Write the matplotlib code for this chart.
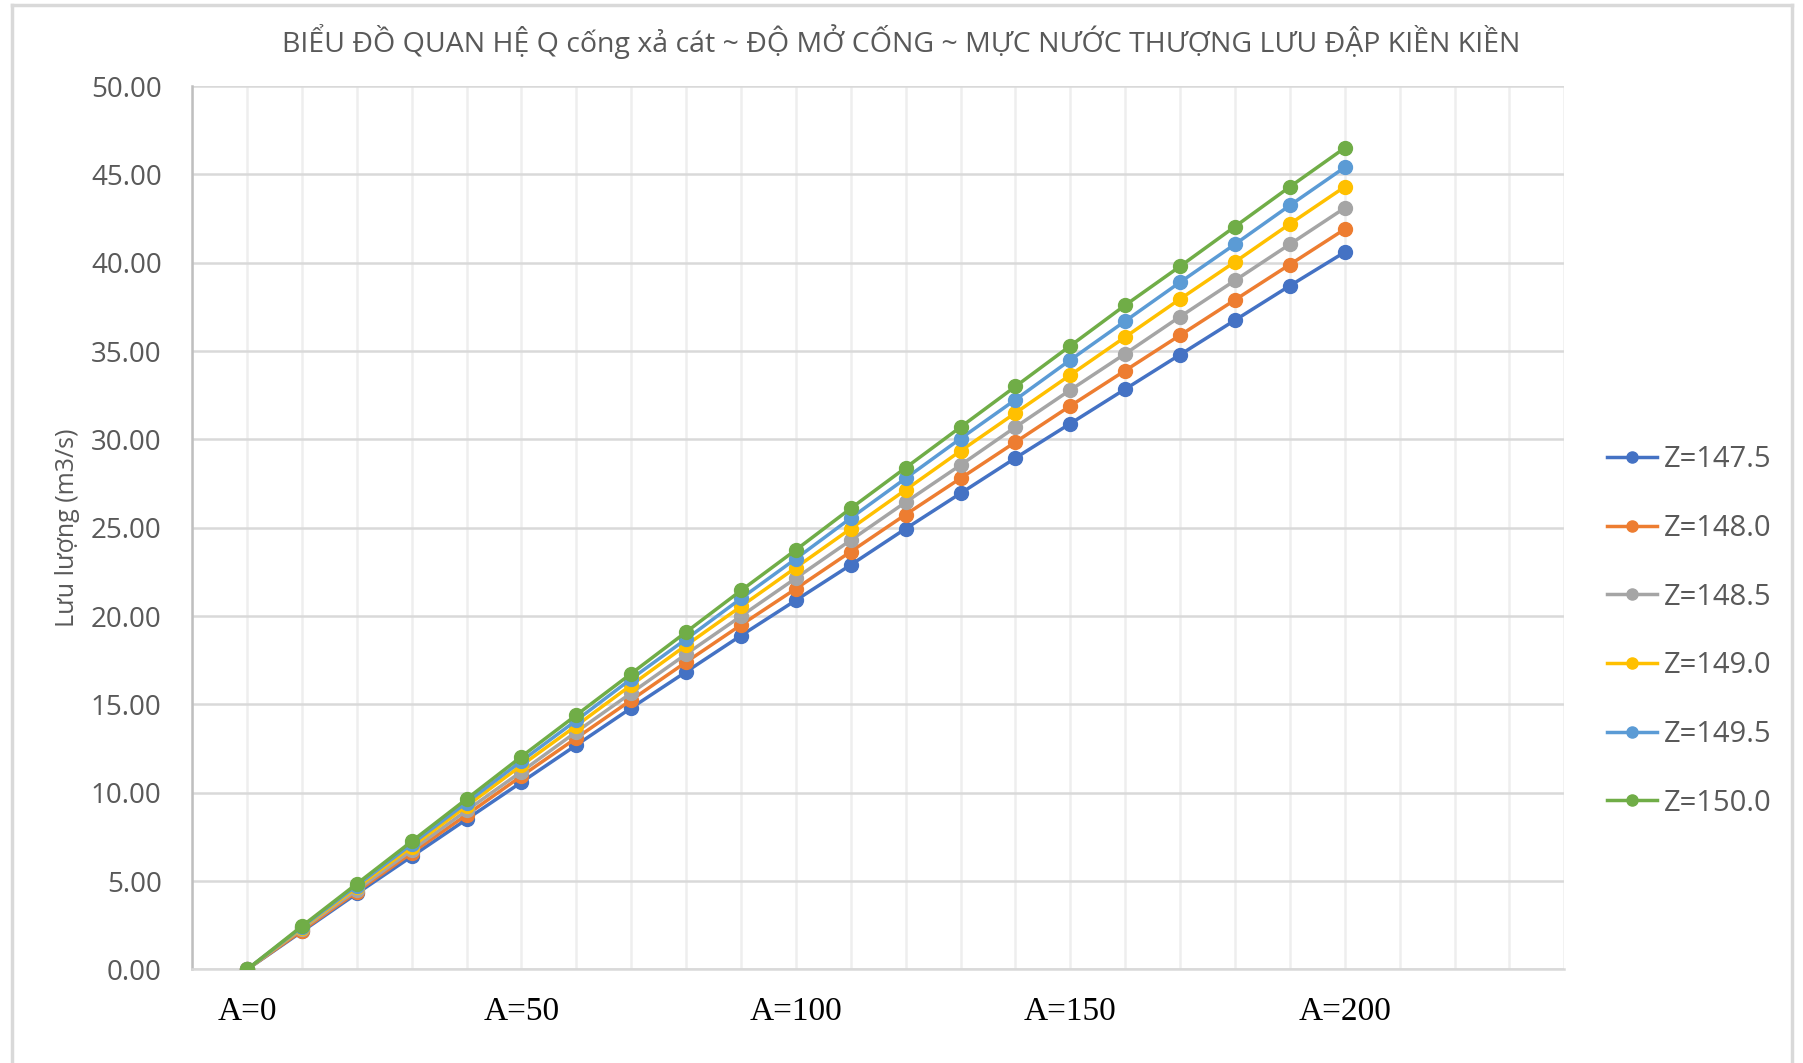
import matplotlib.pyplot as plt
from matplotlib.lines import Line2D

# opening A of the sand-flush gate, one point per 10
openings = [0, 10, 20, 30, 40, 50, 60, 70, 80, 90, 100,
            110, 120, 130, 140, 150, 160, 170, 180, 190, 200]

q_1475 = [0, 2.15, 4.3, 6.4, 8.5, 10.6, 12.7, 14.8, 16.85, 18.9, 20.9,
          22.9, 24.95, 26.95, 28.95, 30.9, 32.85, 34.8, 36.75, 38.7, 40.6]
q_1480 = [0, 2.2, 4.4, 6.6, 8.75, 10.95, 13.1, 15.25, 17.4, 19.5, 21.55,
          23.65, 25.75, 27.8, 29.85, 31.9, 33.9, 35.9, 37.9, 39.9, 41.9]
q_1485 = [0, 2.3, 4.5, 6.75, 9.0, 11.2, 13.45, 15.65, 17.85, 20.0, 22.15,
          24.3, 26.45, 28.55, 30.7, 32.8, 34.85, 36.95, 39.0, 41.05, 43.1]
q_1490 = [0, 2.35, 4.65, 6.95, 9.25, 11.55, 13.8, 16.1, 18.35, 20.55, 22.75,
          24.95, 27.15, 29.35, 31.5, 33.65, 35.8, 37.95, 40.05, 42.2, 44.3]
q_1495 = [0, 2.4, 4.75, 7.1, 9.45, 11.8, 14.1, 16.45, 18.7, 21.0, 23.25,
          25.55, 27.8, 30.05, 32.25, 34.5, 36.7, 38.9, 41.05, 43.25, 45.4]
q_1500 = [0, 2.45, 4.85, 7.25, 9.65, 12.05, 14.4, 16.75, 19.1, 21.45, 23.75,
          26.1, 28.4, 30.7, 33.0, 35.3, 37.6, 39.8, 42.05, 44.3, 46.5]

series_names = ["Z=147.5", "Z=148.0", "Z=148.5", "Z=149.0", "Z=149.5", "Z=150.0"]
colors = ["#4472C4", "#ED7D31", "#A5A5A5", "#FFC000", "#5B9BD5", "#70AD47"]

label_pos = [0, 50, 100, 150, 200]
label_txt = ["A=0", "A=50", "A=100", "A=150", "A=200"]

plt.rcParams['font.family'] = ['Open Sans', 'DejaVu Sans']

fig = plt.figure(figsize=(18.03, 10.63), dpi=100)
ax = fig.add_axes([0.1066, 0.088, 0.761, 0.831])

all_q = [q_1475, q_1480, q_1485, q_1490, q_1495, q_1500]
for q, name, c in zip(all_q, series_names, colors):
    ax.plot(openings, q, '-o', color=c, lw=2.5, ms=10, label=name, zorder=3)

ax.set_xlim(-10, 240)
ax.set_ylim(0, 50)
ax.set_yticks(range(0, 51, 5))
ax.set_yticklabels(["%.2f" % v for v in range(0, 51, 5)])
ax.set_xticks(range(-10, 241, 10))
ax.set_xticklabels([])
ax.tick_params(axis='x', length=0)
ax.tick_params(axis='y', length=0, labelsize=20, labelcolor='#595959', pad=22)

# excel-like grid
ax.grid(axis='y', color='#D9D9D9', lw=1.8)
ax.grid(axis='x', color='#EEEEEE', lw=1.8)
ax.set_axisbelow(True)
for s in ['top', 'right']:
    ax.spines[s].set_visible(False)
ax.spines['left'].set_color('#BFBFBF')
ax.spines['bottom'].set_color('#D9D9D9')
ax.spines['left'].set_linewidth(1.8)
ax.spines['bottom'].set_linewidth(1.8)

ax.set_ylabel("Lưu lượng (m3/s)", fontsize=18, color='#595959', labelpad=8)

# A= labels under the axis
for p, t in zip(label_pos, label_txt):
    ax.text(p, -2.4, t, ha='center', va='center', fontsize=24,
            family='Liberation Serif', color='black')

fig.text(0.5, 0.961, "BIỂU ĐỒ QUAN HỆ Q cống xả cát ~ ĐỘ MỞ CỐNG ~ MỰC NƯỚC THƯỢNG LƯU ĐẬP KIỀN KIỀN",
         ha='center', va='center', fontsize=20.5, color='#595959')

ax.legend(loc='center left', bbox_to_anchor=(0.877, 0.406), bbox_transform=fig.transFigure,
          frameon=False, fontsize=21, labelcolor='#595959', handlelength=1.7,
          handletextpad=0.25, labelspacing=1.36, markerscale=0.8)

# chart area border
for xs, ys in [([0.0064, 0.994], [0.995, 0.995]), ([0.0064, 0.0064], [0.0, 0.995]),
               ([0.994, 0.994], [0.0, 0.995])]:
    fig.add_artist(Line2D(xs, ys, color='#D9D9D9', lw=2.5, transform=fig.transFigure))

fig.savefig("out.png", dpi=100, facecolor='white')
